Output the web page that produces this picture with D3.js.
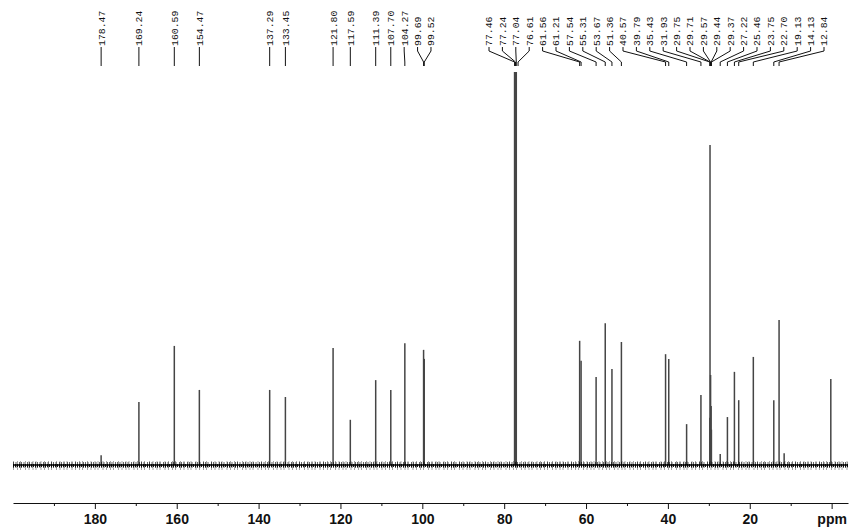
<!DOCTYPE html>
<html>
<head>
<script src="https://cdnjs.cloudflare.com/ajax/libs/d3/7.8.5/d3.min.js"></script>
<style>
  body { margin: 0; background: #fff; }
  .shift text { font-family: "Liberation Mono", "DejaVu Sans Mono", monospace; font-size: 9.8px; fill: #111; }
  .axis text { font-family: "Liberation Sans", Arial, sans-serif; font-size: 14px; font-weight: bold; fill: #111; }
</style>
</head>
<body>
<svg id="nmr" width="857" height="528"></svg>
<script>
// peak positions (ppm) and heights (% of the CDCl3 lines)
var peakPpm = [178.47, 169.24, 160.59, 154.47, 137.29, 133.45, 121.80, 117.59, 111.39, 107.70,
               104.27, 99.69, 99.52, 77.46, 77.24, 77.04, 61.56, 61.21, 57.54, 55.31,
               53.67, 51.36, 40.57, 39.79, 35.43, 31.93, 29.75, 29.71, 29.57, 29.44,
               29.37, 27.22, 25.46, 23.75, 22.70, 19.13, 14.13, 12.84, 11.6, 0.2];
var peakInt = [2.5, 16.0, 30.3, 19.1, 19.1, 17.3, 29.8, 11.5, 21.6, 19.1,
               31.0, 29.3, 27.0, 100, 100, 100, 31.6, 26.5, 22.4, 36.1,
               24.4, 31.3, 28.2, 27.0, 10.4, 17.8, 12.0, 81.4, 22.9, 15.0,
               9.0, 2.8, 12.2, 23.7, 16.5, 27.5, 16.5, 36.9, 3.0, 21.9];

// peak pick labels printed at the top
var labelPpm = ["178.47", "169.24", "160.59", "154.47", "137.29", "133.45", "121.80", "117.59",
                "111.39", "107.70", "104.27", "99.69", "99.52", "77.46", "77.24", "77.04",
                "76.61", "61.56", "61.21", "57.54", "55.31", "53.67", "51.36", "40.57",
                "39.79", "35.43", "31.93", "29.75", "29.71", "29.57", "29.44", "29.37",
                "27.22", "25.46", "23.75", "22.70", "19.13", "14.13", "12.84"];

var majorTicks = [0, 20, 40, 60, 80, 100, 120, 140, 160, 180];
var minorTicks = [10, 30, 50, 70, 90, 110, 130, 150, 170, 190];

var svg = d3.select("#nmr");

var x = d3.scaleLinear().domain([200, -4]).range([13, 848]);
var y = d3.scaleLinear().domain([0, 100]).range([465, 72]);

// peaks
var peaks = peakPpm.map(function(p, i) { return {ppm: p, h: peakInt[i]}; });
svg.append("g").selectAll("line")
  .data(peaks)
  .enter().append("line")
  .attr("x1", function(d) { return x(d.ppm); })
  .attr("x2", function(d) { return x(d.ppm); })
  .attr("y1", y(0))
  .attr("y2", function(d) { return y(d.h); })
  .attr("stroke", "#454545")
  .attr("stroke-width", 1.5);

// baseline with a noisy look (styling only)
var base = svg.append("g");
var bx = x.range();
base.append("line").attr("x1", bx[0]).attr("x2", bx[1]).attr("y1", y(0) + 0.5).attr("y2", y(0) + 0.5)
  .attr("stroke", "#000").attr("stroke-width", 9).attr("stroke-opacity", 0.35)
  .attr("stroke-dasharray", "1 3 1 2 1 4 1 2.5");
base.append("line").attr("x1", bx[0]).attr("x2", bx[1]).attr("y1", y(0)).attr("y2", y(0))
  .attr("stroke", "#000").attr("stroke-width", 6).attr("stroke-opacity", 0.6)
  .attr("stroke-dasharray", "1 1.5 1 2.5 1 1");
base.append("line").attr("x1", bx[0]).attr("x2", bx[1]).attr("y1", y(0) + 0.5).attr("y2", y(0) + 0.5)
  .attr("stroke", "#000").attr("stroke-width", 3).attr("stroke-opacity", 0.9)
  .attr("stroke-dasharray", "1 1");
base.append("line").attr("x1", bx[0]).attr("x2", bx[1]).attr("y1", y(0)).attr("y2", y(0))
  .attr("stroke", "#000").attr("stroke-width", 1.3);

// label layout: spread crowded labels evenly around their mean position
var gap = 13.4, rightLimit = 824;
var items = labelPpm.map(function(s) { return {text: s, xp: x(+s)}; })
  .sort(function(a, b) { return a.xp - b.xp; });
var clusters = [];
items.forEach(function(it) {
  clusters.push({items: [it], center: it.xp});
  while (clusters.length > 1) {
    var a = clusters[clusters.length - 2], b = clusters[clusters.length - 1];
    var aEnd = a.center + (a.items.length - 1) * gap / 2;
    var bStart = b.center - (b.items.length - 1) * gap / 2;
    if (bStart - aEnd >= gap) break;
    var all = a.items.concat(b.items);
    clusters.splice(-2, 2, {items: all, center: d3.mean(all, function(d) { return d.xp; })});
  }
});
clusters.forEach(function(c) {
  var n = c.items.length;
  var end = c.center + (n - 1) * gap / 2;
  if (end > rightLimit) c.center -= end - rightLimit;
  c.items.forEach(function(it, i) { it.xl = c.center + (i - (n - 1) / 2) * gap; });
});

var lab = svg.append("g").attr("class", "shift");
lab.selectAll("path")
  .data(items)
  .enter().append("path")
  .attr("d", function(d) { return "M" + d.xl + ",47V51L" + d.xp + ",62V66"; })
  .attr("fill", "none")
  .attr("stroke", "#111")
  .attr("stroke-width", 1);
lab.selectAll("text")
  .data(items)
  .enter().append("text")
  .attr("transform", function(d) { return "translate(" + d.xl + ",46) rotate(-90)"; })
  .attr("dy", "0.35em")
  .text(function(d) { return d.text; });

// axis
var axis = svg.append("g").attr("class", "axis").attr("transform", "translate(0,503)")
  .call(d3.axisBottom(x).tickValues(majorTicks).tickSize(6).tickSizeOuter(0).tickPadding(5)
    .tickFormat(function(d) { return d === 0 ? "ppm" : d; }));
axis.select(".domain").attr("stroke", "#111");
axis.selectAll(".tick line").attr("stroke", "#111");

svg.append("g").attr("transform", "translate(0,503)")
  .call(d3.axisBottom(x).tickValues(minorTicks).tickSize(3).tickFormat(""))
  .call(function(g) { g.select(".domain").remove(); })
  .selectAll(".tick line").attr("stroke", "#111");
</script>
</body>
</html>
